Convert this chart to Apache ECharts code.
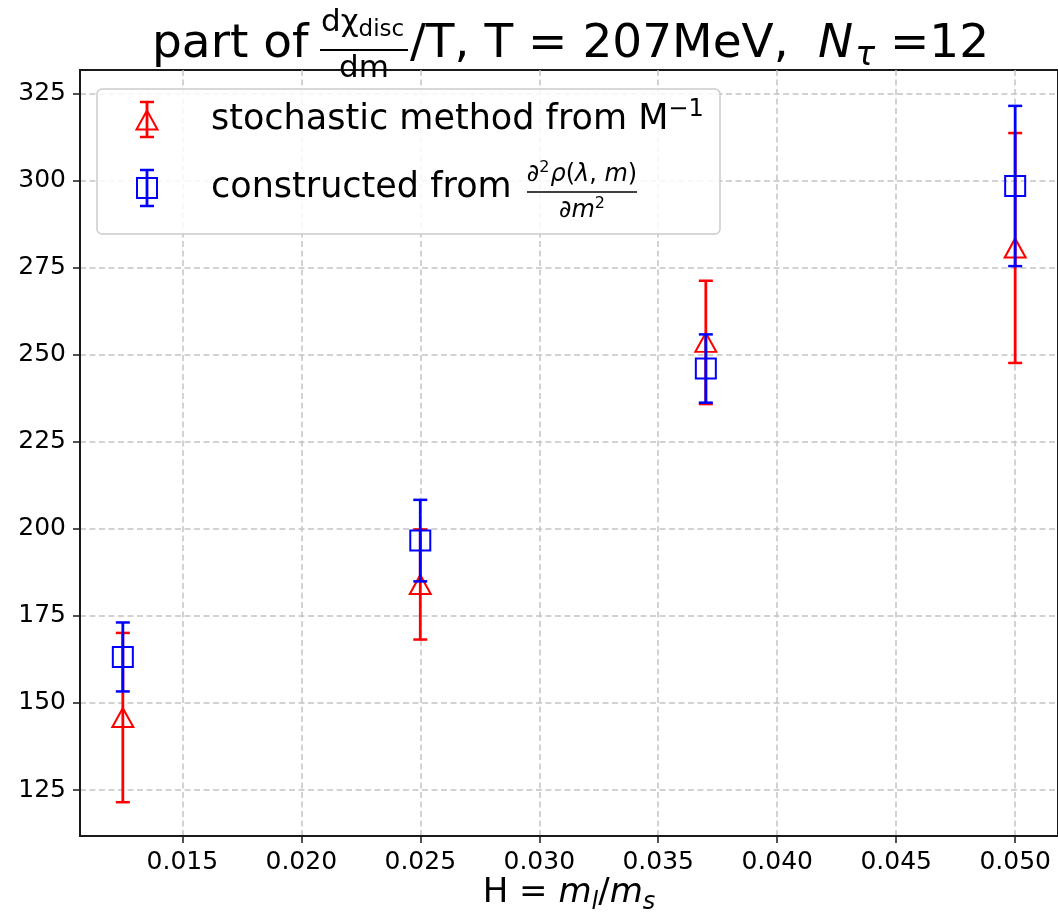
<!DOCTYPE html>
<html>
<head>
<meta charset="utf-8">
<script src="https://cdn.jsdelivr.net/npm/echarts@6/dist/echarts.min.js"></script>
<style>
  html, body { margin: 0; padding: 0; background: #ffffff; }
  #main { width: 1058px; height: 919px; }
</style>
</head>
<body>
<div id="main"></div>
<script>
// Quark mass ratio H = m_l/m_s
const masses = [0.0125, 0.025, 0.037, 0.05];
// stochastic method from M^-1
const stochValues = [145.8, 184.0, 253.5, 280.6];
const stochErrors = [24.3, 15.8, 17.7, 33.0];
// constructed from d^2 rho / dm^2
const constrValues = [163.2, 196.6, 246.0, 298.4];
const constrErrors = [9.9, 11.7, 9.8, 23.0];
// axis ticks
const xTicks = [0.015, 0.020, 0.025, 0.030, 0.035, 0.040, 0.045, 0.050];
const yTicks = [125, 150, 175, 200, 225, 250, 275, 300, 325];

const FAMILY = '"DejaVu Sans", "Liberation Sans", sans-serif';
const RED = '#ff0000';
const BLUE = '#0000ff';

const measureCtx = document.createElement('canvas').getContext('2d');
function fontStr(p) {
  return (p.italic ? 'italic ' : '') + p.size + 'px ' + FAMILY;
}
// Lays out a row of text pieces on a common baseline (with optional shifts)
function textRun(x, baseline, pieces, align) {
  const widths = pieces.map(p => {
    measureCtx.font = fontStr(p);
    return measureCtx.measureText(p.t).width + (p.gap || 0);
  });
  const total = widths.reduce((a, b) => a + b, 0);
  let cx = align === 'center' ? x - total / 2 : x;
  const els = [];
  pieces.forEach((p, i) => {
    els.push({
      type: 'text', silent: true, z: 100,
      x: cx + (p.dx || 0),
      y: baseline + (p.dy || 0) - 0.346 * p.size,
      style: { text: p.t, font: fontStr(p), fill: '#000', align: 'left', verticalAlign: 'middle' }
    });
    cx += widths[i];
  });
  return els;
}
function hline(x1, x2, y, w, color) {
  return { type: 'line', silent: true, z: 100,
    shape: { x1: x1, y1: y, x2: x2, y2: y },
    style: { stroke: color || '#000', lineWidth: w } };
}

// ---- title: part of (dχ_disc/dm)/T, T = 207MeV, N_τ =12
const titleEls = [].concat(
  textRun(152, 61, [{ t: 'part of', size: 47 }]),
  textRun(321, 34, [{ t: 'dχ', size: 31 }, { t: 'disc', size: 23, dy: 4 }]),
  [hline(320, 408, 50, 2)],
  textRun(364, 80, [{ t: 'dm', size: 31 }], 'center'),
  textRun(410, 61, [{ t: '/T, T = 207MeV,', size: 47 }]),
  textRun(818, 61, [
    { t: 'N', size: 47, italic: true, gap: 2 },
    { t: 'τ', size: 33, italic: true, dy: 7 },
    { t: ' =12', size: 47 }
  ])
);

// ---- x axis label: H = m_l/m_s
const xNameEls = textRun(569, 905, [
  { t: 'H = ', size: 34 },
  { t: 'm', size: 34, italic: true },
  { t: 'l', size: 24, italic: true, dy: 6 },
  { t: '/', size: 34 },
  { t: 'm', size: 34, italic: true },
  { t: 's', size: 24, italic: true, dy: 6 }
], 'center');

// ---- legend
const legendEls = [
  { type: 'rect', silent: true, z: 90,
    shape: { x: 97, y: 89, width: 623, height: 145, r: 5 },
    style: { fill: 'rgba(255,255,255,0.85)', stroke: '#cccccc', lineWidth: 1.5 } },
  // red handle
  { type: 'line', silent: true, z: 95, shape: { x1: 147, y1: 102, x2: 147, y2: 137 }, style: { stroke: RED, lineWidth: 2.8 } },
  hline(140, 154, 102, 2.5, RED), hline(140, 154, 137, 2.5, RED),
  { type: 'polygon', silent: true, z: 96,
    shape: { points: [[147, 110.5], [136.5, 129.5], [157.5, 129.5]] },
    style: { fill: 'none', stroke: RED, lineWidth: 2 } },
  // blue handle
  { type: 'line', silent: true, z: 95, shape: { x1: 147, y1: 170, x2: 147, y2: 206 }, style: { stroke: BLUE, lineWidth: 2.8 } },
  hline(140, 154, 170, 2.5, BLUE), hline(140, 154, 206, 2.5, BLUE),
  { type: 'rect', silent: true, z: 96,
    shape: { x: 137, y: 178, width: 20, height: 20 },
    style: { fill: 'none', stroke: BLUE, lineWidth: 2 } }
].concat(
  textRun(211, 132, [{ t: 'stochastic method from M', size: 35 }, { t: '−1', size: 24, dy: -14 }]),
  textRun(211, 200, [{ t: 'constructed from', size: 35 }]),
  textRun(582, 183, [
    { t: '∂', size: 24, italic: true },
    { t: '2', size: 16, dy: -10, gap: 1 },
    { t: 'ρ', size: 24, italic: true },
    { t: '(', size: 24 },
    { t: 'λ', size: 24, italic: true },
    { t: ', ', size: 24 },
    { t: 'm', size: 24, italic: true },
    { t: ')', size: 24 }
  ], 'center'),
  [hline(527, 637, 192, 1.5)],
  textRun(582, 219, [
    { t: '∂', size: 24, italic: true },
    { t: 'm', size: 24, italic: true },
    { t: '2', size: 16, dy: -10 }
  ], 'center')
);

function errorBarSeries(name, values, errors, color, z) {
  return {
    type: 'custom', name: name, z: z, silent: true,
    data: masses.map((x, i) => [x, values[i] - errors[i], values[i] + errors[i]]),
    encode: { x: 0, y: [1, 2] },
    renderItem: function (params, api) {
      const lo = api.coord([api.value(0), api.value(1)]);
      const hi = api.coord([api.value(0), api.value(2)]);
      const cap = 7;
      const st = { stroke: color, lineWidth: 2.8 };
      const capSt = { stroke: color, lineWidth: 2.5 };
      return {
        type: 'group',
        children: [
          { type: 'line', shape: { x1: lo[0], y1: lo[1], x2: hi[0], y2: hi[1] }, style: st },
          { type: 'line', shape: { x1: lo[0] - cap, y1: lo[1], x2: lo[0] + cap, y2: lo[1] }, style: capSt },
          { type: 'line', shape: { x1: hi[0] - cap, y1: hi[1], x2: hi[0] + cap, y2: hi[1] }, style: capSt }
        ]
      };
    }
  };
}
function markerSeries(name, values, symbol, size, color, z) {
  return {
    type: 'scatter', name: name, z: z, silent: true,
    symbol: symbol, symbolSize: size,
    data: masses.map((x, i) => [x, values[i]]),
    itemStyle: { color: 'rgba(0,0,0,0)', borderColor: color, borderWidth: 2, opacity: 1 }
  };
}

const axisLineStyle = { color: '#1a1a1a', width: 2 };
const tickStyle = { color: '#1a1a1a', width: 1.5 };
const gridLine = { show: true, lineStyle: { color: '#c4c4c4', width: 1.5, type: [6, 3.5] } };

const chart = echarts.init(document.getElementById('main'), null, { renderer: 'canvas' });
chart.setOption({
  animation: false,
  backgroundColor: '#ffffff',
  grid: { left: 80, right: 0, top: 70, bottom: 83, show: true,
          borderColor: '#1a1a1a', borderWidth: 2, backgroundColor: 'transparent' },
  xAxis: {
    type: 'value', min: 0.0107, max: 0.0518,
    axisLine: { show: true, lineStyle: axisLineStyle },
    axisTick: { show: true, customValues: xTicks, length: 7, lineStyle: tickStyle },
    axisLabel: { customValues: xTicks, formatter: v => v.toFixed(3), fontSize: 25,
                 fontFamily: FAMILY, color: '#000', margin: 14 },
    splitLine: gridLine
  },
  yAxis: {
    type: 'value', min: 111.8, max: 331.7,
    axisLine: { show: true, lineStyle: axisLineStyle },
    axisTick: { show: true, customValues: yTicks, length: 7, lineStyle: tickStyle },
    axisLabel: { customValues: yTicks, fontSize: 25, fontFamily: FAMILY, color: '#000', margin: 14 },
    splitLine: gridLine
  },
  graphic: { elements: titleEls.concat(xNameEls, legendEls) },
  series: [
    errorBarSeries('stochastic method from M^-1', stochValues, stochErrors, RED, 2),
    markerSeries('stochastic method from M^-1', stochValues, 'triangle', [21, 19], RED, 3),
    errorBarSeries('constructed from d2rho/dm2', constrValues, constrErrors, BLUE, 4),
    markerSeries('constructed from d2rho/dm2', constrValues, 'rect', [20, 20], BLUE, 5)
  ]
});
</script>
</body>
</html>
